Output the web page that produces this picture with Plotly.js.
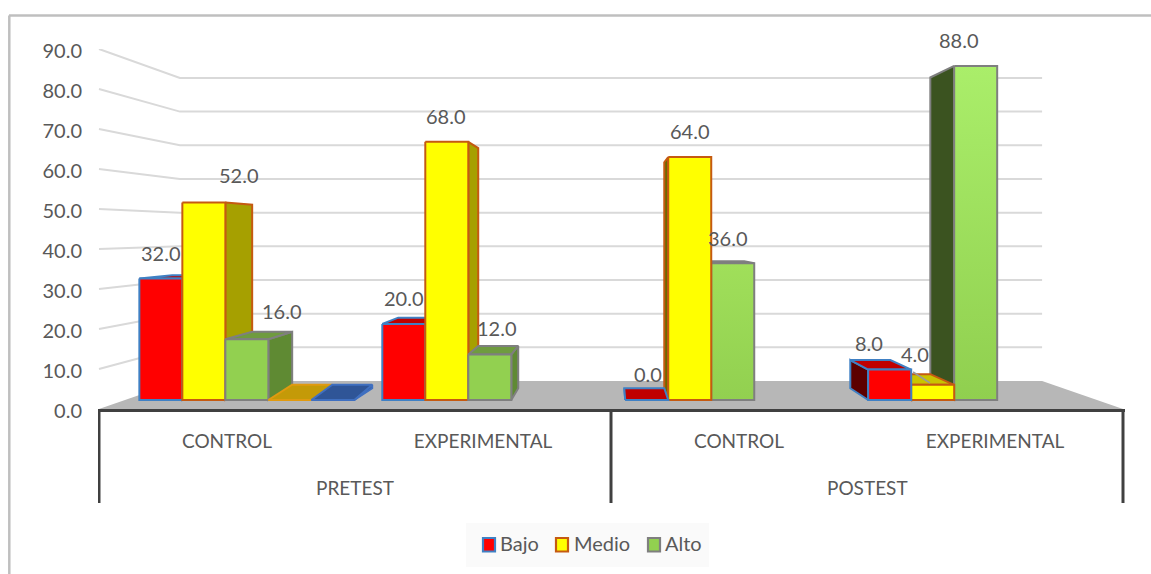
<!DOCTYPE html>
<html>
<head>
<meta charset="utf-8">
<script src="https://cdn.plot.ly/plotly-3.0.1.min.js"></script>
<style>html,body{margin:0;padding:0;background:#fff}#chart{width:1151px;height:574px}</style>
</head>
<body>
<div id="chart"></div>
<script>
// Survey levels by group and test moment
const seriesNames = ['Bajo', 'Medio', 'Alto'];
const groupLabels = ['CONTROL', 'EXPERIMENTAL', 'CONTROL', 'EXPERIMENTAL'];
const phaseLabels = ['PRETEST', 'POSTEST'];
const bajo  = [32, 20, 0, 8];
const medio = [52, 68, 64, 4];
const alto  = [16, 12, 36, 88];
// Two empty columns sit after the first group's three bars
const emptyA = [0];
const emptyB = [0];
const yTicks = [0, 10, 20, 30, 40, 50, 60, 70, 80, 90];

// Perspective set-up: everything converges on one vanishing point
const VP = {x: 2, y: 44.25};
const DEPTH = {barFront: 0.051, barBack: 0.117, wall: 0.158};
const project = (cat, v, d) => [VP.x + (cat - VP.x) * (1 - d), VP.y + (v - VP.y) * (1 - d)];

const SLOT = 0.177, GAP = 0.0586;
const FONT = 'Lato, Carlito, Calibri, sans-serif';
const INK = '#595959';

const styles = {
  bajo:  {front: '#ff0000', top: '#c00000', right: '#a00000', left: '#5c0000', line: '#3f80c4'},
  medio: {front: '#ffff00', top: '#c9c400', right: '#a6a000', left: '#6c6a00', line: '#c55a11'},
  alto:  {front: '#92d050', top: '#6f9b3f', right: '#5f8a33', left: '#3b5320', line: '#7f7f7f'},
  gold:  {front: '#ffc000', top: '#c49a08', right: '#a08000', left: '#806000', line: '#e09a10'},
  navy:  {front: '#4472c4', top: '#2f5597', right: '#2f5597', left: '#203864', line: '#3f6fc0'}
};

const traces = [];

// Floor plate
const floor = [project(0, 0, 0), project(4, 0, 0), project(4, 0, DEPTH.wall), project(0, 0, DEPTH.wall)];
traces.push({type: 'scatter', mode: 'lines', x: floor.map(p => p[0]), y: floor.map(p => p[1]),
  fill: 'toself', fillcolor: '#b7b7b7', line: {width: 0}, hoverinfo: 'skip', showlegend: false, cliponaxis: false});

// Gridlines run along the left wall, then across the back wall
const gridX = [], gridY = [];
yTicks.slice(1).forEach(v => {
  [project(0, v, 0), project(0, v, DEPTH.wall), project(4, v, DEPTH.wall)].forEach(p => { gridX.push(p[0]); gridY.push(p[1]); });
  gridX.push(null); gridY.push(null);
});
traces.push({type: 'scatter', mode: 'lines', x: gridX, y: gridY, line: {color: '#d9d9d9', width: 2},
  hoverinfo: 'skip', showlegend: false, cliponaxis: false});

function face(points, color, line, gradient) {
  const t = {type: 'scatter', mode: 'lines', x: points.map(p => p[0]).concat(points[0][0]),
    y: points.map(p => p[1]).concat(points[0][1]), fill: 'toself', fillcolor: color,
    line: {color: line, width: 2}, hoverinfo: 'skip', showlegend: false, cliponaxis: false};
  if (gradient) t.fillgradient = {type: 'vertical', colorscale: [[0, gradient[0]], [1, gradient[1]]]};
  traces.push(t);
}

// One column: hidden faces are skipped depending on where it sits against the vanishing point.
// backLift raises the far edge of the flat columns so their tops read as deeper plates.
function column(cat, slot, value, style, gradient, backLift) {
  const lift = backLift || 0;
  const x0 = cat + GAP + slot * SLOT, x1 = x0 + SLOT;
  const f = DEPTH.barFront, b = DEPTH.barBack;
  const ftl = project(x0, value, f), ftr = project(x1, value, f), fbl = project(x0, 0, f), fbr = project(x1, 0, f);
  const btl = project(x0, value + lift, b), btr = project(x1, value + lift, b), bbl = project(x0, 0, b), bbr = project(x1, 0, b);
  if (x1 < VP.x) face([ftr, btr, bbr, fbr], style.right, style.line);
  if (x0 > VP.x) face([ftl, btl, bbl, fbl], style.left, style.line);
  if (value < VP.y) face([ftl, ftr, btr, btl], style.top, style.line);
  face([ftl, ftr, fbr, fbl], style.front, style.line, gradient);
}

// Columns are painted from the far side inwards so nearer ones overlap correctly
const rows = [
  {slot: 0, values: bajo, style: styles.bajo},
  {slot: 1, values: medio, style: styles.medio},
  {slot: 2, values: alto, style: styles.alto}
];
const altoShade = [null, null, ['#92d050', '#a0df5a'], ['#90cf4f', '#aaee6a']];
[0, 1].forEach(cat => {
  rows.forEach(r => column(cat, r.slot, r.values[cat], r.style, r.slot === 2 ? altoShade[cat] : null));
  if (cat === 0) {
    column(0, 3, emptyA[0], styles.gold, null, 1);
    column(0, 4, emptyB[0], styles.navy, null, 1);
  }
});
[3, 2].forEach(cat => {
  rows.slice().reverse().forEach(r => column(cat, r.slot, r.values[cat], r.style, r.slot === 2 ? altoShade[cat] : null));
});

// Leader from the 4.0 label to its column
const leaderFrom = [3.18, 9.25], leaderTo = [3.246, 6.5];
traces.push({type: 'scatter', mode: 'lines', x: [leaderFrom[0], leaderTo[0]], y: [leaderFrom[1], leaderTo[1]],
  line: {color: '#9a9a9a', width: 1.5}, hoverinfo: 'skip', showlegend: false, cliponaxis: false});

// Helpers for placing furniture in page pixels on the paper reference
const PX = px => (px - 98) / 1027;
const PY = py => (409 - py) / 360;

// Value labels, nudged off each column's top edge
const labelNudge = {
  bajo:  [[0, 26], [0, 26], [1, 26], [-21, 27]],
  medio: [[35, 28], [-1, 26], [0, 26], [-18, 31]],
  alto:  [[35, 28], [7, 26], [-5, 25], [-17, 26]]
};
const annotations = [];
rows.forEach(r => {
  const key = r.slot === 0 ? 'bajo' : r.slot === 1 ? 'medio' : 'alto';
  r.values.forEach((v, cat) => {
    const p = project(cat + GAP + (r.slot + 0.5) * SLOT, v, DEPTH.barFront);
    annotations.push({x: p[0], y: p[1], xref: 'x', yref: 'y', text: v.toFixed(1), showarrow: false,
      xshift: labelNudge[key][cat][0], yshift: labelNudge[key][cat][1],
      font: {family: FONT, size: 20, color: INK}, xanchor: 'center', yanchor: 'middle'});
  });
});
// Second tier of the category axis
phaseLabels.forEach((t, i) => annotations.push({x: 1 + 2 * i, y: PY(487), xref: 'x', yref: 'paper', text: t, showarrow: false,
  font: {family: FONT, size: 19, color: INK}, xanchor: 'center', yanchor: 'middle'}));

// Tier dividers
const shapes = [0, 2, 4].map(c => ({type: 'line', xref: 'x', yref: 'paper', x0: c, x1: c, y0: 0, y1: PY(503),
  line: {color: '#404040', width: 3}}));

// Outer frame: only the top and left edges are drawn
shapes.push({type: 'line', xref: 'paper', yref: 'paper', x0: PX(9), x1: PX(1151), y0: PY(15.5), y1: PY(15.5), line: {color: '#bfbfbf', width: 2.5}});
shapes.push({type: 'line', xref: 'paper', yref: 'paper', x0: PX(9.3), x1: PX(9.3), y0: PY(15.5), y1: PY(574), line: {color: '#bfbfbf', width: 2.5}});

// Legend panel with its keys and names
const legendKeys = [482, 555, 647];
const legendText = [500, 574, 665];
shapes.push({type: 'rect', xref: 'paper', yref: 'paper', x0: PX(466), x1: PX(709), y0: PY(523), y1: PY(567),
  fillcolor: '#fafafa', line: {width: 0}, layer: 'below'});
seriesNames.forEach((name, i) => {
  const s = [styles.bajo, styles.medio, styles.alto][i];
  shapes.push({type: 'rect', xref: 'paper', yref: 'paper', x0: PX(legendKeys[i] + 1), x1: PX(legendKeys[i] + 13),
    y0: PY(538), y1: PY(551.5), fillcolor: s.front, line: {color: s.line, width: 2.2}});
  annotations.push({x: PX(legendText[i]), y: PY(543), xref: 'paper', yref: 'paper', text: name, showarrow: false,
    xanchor: 'left', yanchor: 'middle', font: {family: FONT, size: 20, color: INK}, xshift: -2});
});

const layout = {
  width: 1151, height: 574,
  margin: {l: 98, r: 26, t: 49, b: 165},
  paper_bgcolor: '#ffffff', plot_bgcolor: 'rgba(0,0,0,0)',
  showlegend: false,
  xaxis: {range: [-1 / 256, 4 + 2 / 256], tickvals: [0.5, 1.5, 2.5, 3.5], ticktext: groupLabels, showgrid: false, zeroline: false,
    showline: true, linecolor: '#404040', linewidth: 3, ticks: '', ticklabelstandoff: 13,
    tickfont: {family: FONT, size: 19, color: INK}},
  yaxis: {range: [0, 90], tickvals: yTicks, ticktext: yTicks.map(v => v.toFixed(1)), showgrid: false, zeroline: false,
    showline: false, ticks: '', ticklabelstandoff: 15, ticklabelshift: 2, tickfont: {family: FONT, size: 20, color: INK}},
  shapes: shapes,
  annotations: annotations
};

Plotly.newPlot('chart', traces, layout, {displayModeBar: false, responsive: false});
</script>
</body>
</html>
